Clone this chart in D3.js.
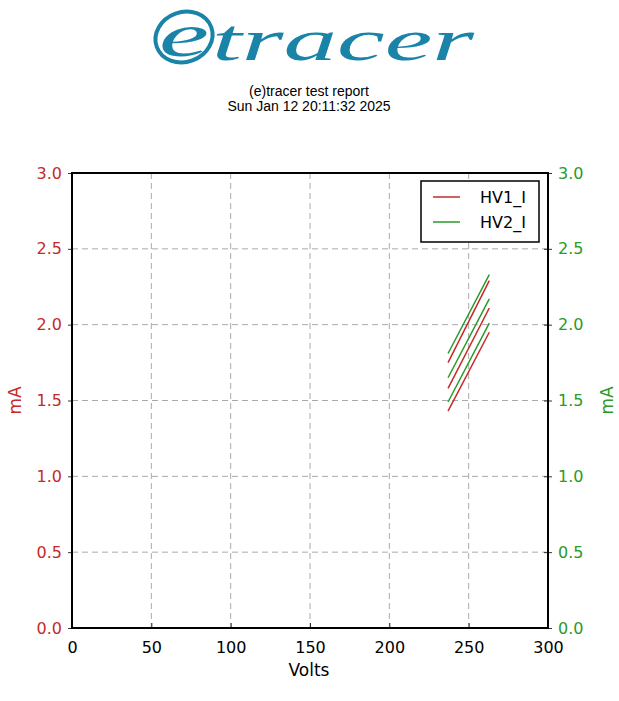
<!DOCTYPE html>
<html>
<head>
<meta charset="utf-8">
<script src="https://cdn.jsdelivr.net/npm/d3@7"></script>
<style>
html,body{margin:0;padding:0;background:#fff;}
svg{display:block;}
</style>
</head>
<body>
<svg id="chart" width="619" height="701"></svg>
<script>
// ---- data ----
const titleLines = ["(e)tracer test report", "Sun Jan 12 20:11:32 2025"];
const xTicks = [0, 50, 100, 150, 200, 250, 300];
const yTicks = [0.0, 0.5, 1.0, 1.5, 2.0, 2.5, 3.0];
const volts = [237, 263];
const hv1Sweeps = [
  [1.75, 2.29],
  [1.58, 2.11],
  [1.43, 1.95]
];
const hv2Sweeps = [
  [1.81, 2.33],
  [1.65, 2.17],
  [1.49, 2.01]
];
const seriesNames = ["HV1_I", "HV2_I"];

// ---- layout ----
const RED = "#c62a2a", GREEN = "#2a9a2a", LOGO = "#1a84a8";
const svg = d3.select("#chart");
const L = 72, R = 548, T = 173, B = 628;
const x = d3.scaleLinear().domain([0, 300]).range([L, R]);
const y = d3.scaleLinear().domain([0, 3]).range([B, T]);
const y2 = d3.scaleLinear().domain([0, 3]).range([B, T]);

// ---- logo ----
const logo = svg.append("g");
logo.append("ellipse").attr("cx", 184).attr("cy", 37).attr("rx", 29).attr("ry", 25)
  .attr("transform", "rotate(-20,184,37)")
  .attr("fill", "none").attr("stroke", LOGO).attr("stroke-width", 4);
logo.append("text").attr("x", 184).attr("y", 56).attr("text-anchor", "middle")
  .attr("font-family", "Liberation Serif").attr("font-style", "italic")
  .attr("font-size", 62).attr("fill", LOGO).attr("textLength", 50)
  .attr("lengthAdjust", "spacingAndGlyphs").text("e");
logo.append("text").attr("x", 212).attr("y", 60)
  .attr("font-family", "Liberation Serif").attr("font-style", "italic")
  .attr("font-size", 60).attr("fill", LOGO).attr("textLength", 262)
  .attr("lengthAdjust", "spacingAndGlyphs").text("tracer");

// ---- title ----
titleLines.forEach((t, i) => {
  svg.append("text").attr("x", 309).attr("y", 96 + i * 14.5).attr("text-anchor", "middle")
    .attr("font-family", "Liberation Sans, Arial").attr("font-size", 14).attr("fill", "#000").text(t);
});

// ---- grid ----
const grid = svg.append("g").attr("stroke", "#aaa").attr("stroke-width", 1).attr("stroke-dasharray", "6,4");
xTicks.slice(1, -1).forEach(v => grid.append("line").attr("x1", x(v)).attr("x2", x(v)).attr("y1", T).attr("y2", B));
yTicks.slice(1, -1).forEach(v => grid.append("line").attr("x1", L).attr("x2", R).attr("y1", y(v)).attr("y2", y(v)));

// ---- lines ----
const line = d3.line().x(d => x(d[0])).y(d => y(d[1]));
const plotG = svg.append("g");
hv1Sweeps.forEach(s => plotG.append("path").datum(volts.map((v, i) => [v, s[i]]))
  .attr("d", line).attr("fill", "none").attr("stroke", RED).attr("stroke-width", 1.5));
hv2Sweeps.forEach(s => plotG.append("path").datum(volts.map((v, i) => [v, s[i]]))
  .attr("d", line).attr("fill", "none").attr("stroke", GREEN).attr("stroke-width", 1.5));

// ---- axes ----
const font = "DejaVu Sans";
const xAxis = svg.append("g").attr("transform", `translate(0,${B})`)
  .call(d3.axisBottom(x).tickValues(xTicks).tickSize(-5).tickPadding(14).tickFormat(d3.format("d")));
xAxis.select(".domain").remove();
xAxis.selectAll("line").attr("stroke", "#000").attr("stroke-width", 0.8);
xAxis.selectAll("text").attr("font-family", font).attr("font-size", 16).attr("fill", "#000");

const yAxis = svg.append("g").attr("transform", `translate(${L},0)`)
  .call(d3.axisLeft(y).tickValues(yTicks).tickSize(4).tickPadding(6).tickFormat(d3.format(".1f")));
yAxis.select(".domain").remove();
yAxis.selectAll("line").attr("stroke", "#000").attr("stroke-width", 0.8);
yAxis.selectAll("text").attr("font-family", font).attr("font-size", 16).attr("fill", RED);

const yAxis2 = svg.append("g").attr("transform", `translate(${R},0)`)
  .call(d3.axisRight(y2).tickValues(yTicks).tickSizeInner(4).tickSizeOuter(0).tickPadding(6).tickFormat(d3.format(".1f")));
yAxis2.select(".domain").remove();
yAxis2.selectAll("line").attr("x1", -4).attr("stroke", "#000").attr("stroke-width", 0.8);
yAxis2.selectAll("text").attr("font-family", font).attr("font-size", 16).attr("fill", GREEN);

// frame
svg.append("rect").attr("x", L).attr("y", T).attr("width", R - L).attr("height", B - T)
  .attr("fill", "none").attr("stroke", "#000").attr("stroke-width", 2);

// axis labels
svg.append("text").attr("x", 309).attr("y", 676).attr("text-anchor", "middle")
  .attr("font-family", font).attr("font-size", 17).attr("fill", "#000").text("Volts");
svg.append("text").attr("transform", `translate(21,${(T + B) / 2}) rotate(-90)`).attr("text-anchor", "middle")
  .attr("font-family", font).attr("font-size", 17).attr("fill", RED).text("mA");
svg.append("text").attr("transform", `translate(613,${(T + B) / 2}) rotate(-90)`).attr("text-anchor", "middle")
  .attr("font-family", font).attr("font-size", 17).attr("fill", GREEN).text("mA");

// ---- legend ----
const lg = svg.append("g");
lg.append("rect").attr("x", 421).attr("y", 181).attr("width", 118).attr("height", 61)
  .attr("fill", "#fff").attr("stroke", "#000").attr("stroke-width", 1.5);
[RED, GREEN].forEach((c, i) => {
  const yy = 197 + i * 25;
  lg.append("line").attr("x1", 433).attr("x2", 460).attr("y1", yy).attr("y2", yy)
    .attr("stroke", c).attr("stroke-width", 1.5);
  lg.append("text").attr("x", 480).attr("y", yy + 6).attr("font-family", font)
    .attr("font-size", 16).attr("fill", "#000").text(seriesNames[i]);
});
</script>
</body>
</html>
